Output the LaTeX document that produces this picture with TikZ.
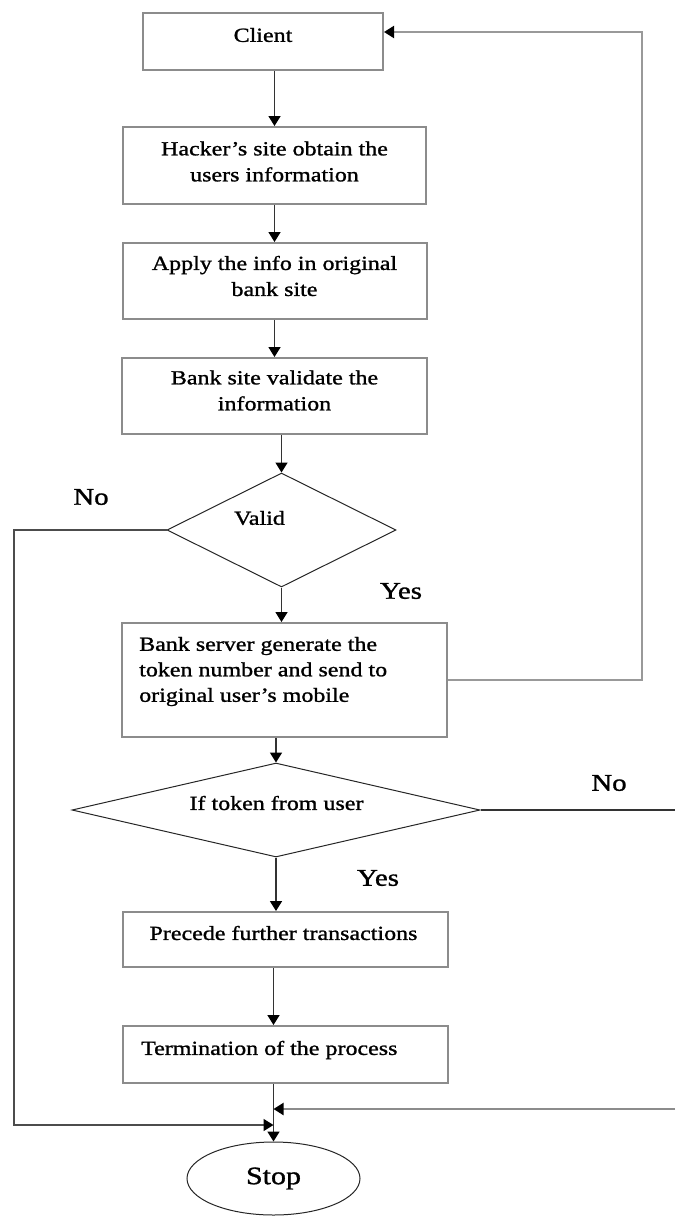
\documentclass[tikz,border=0pt]{standalone}
\usepackage{fontspec}
\setmainfont{Liberation Serif}[FakeStretch=1.2,FakeBold=1.2]
\usetikzlibrary{arrows.meta,shapes.geometric}
\begin{document}
\begin{tikzpicture}[x=1pt,y=-1pt,
  box/.style={draw=black!45, line width=2pt, rectangle, inner sep=0pt},
  txt/.style={font=\fontsize{20pt}{26pt}\selectfont, inner sep=0pt, align=center},
  ltxt/.style={font=\fontsize{20pt}{25.5pt}\selectfont, inner sep=0pt, align=left},
  dec/.style={draw=black!85, line width=1pt, diamond, inner sep=0pt},
  lab/.style={font=\fontsize{24pt}{28pt}\selectfont, inner sep=0pt},
  tip/.style={-{Triangle[length=10pt,width=12pt,color=black]}},
  arr/.style={draw=black!80, line width=1.6pt, tip},
  ln/.style={draw=black!80, line width=1.6pt},
  fb/.style={draw=black!40, line width=2pt}
]
\useasboundingbox (0,0) rectangle (675,1216);

% boxes
\node[box, minimum width=240pt, minimum height=57pt,
  label={[txt, yshift=6.5pt]center:Client}] (client) at (263,41.5) {};
\node[box, minimum width=303pt, minimum height=77pt,
  label={[txt, yshift=4pt]center:Hacker’s site obtain the\\users information}] (hacker) at (274.5,165.5) {};
\node[box, minimum width=304pt, minimum height=76pt,
  label={[txt, yshift=5pt]center:Apply the info in original\\bank site}] (apply) at (274.5,281) {};
\node[box, minimum width=305pt, minimum height=76pt,
  label={[txt, yshift=5.5pt]center:Bank site validate the\\information}] (validate) at (274.5,396) {};
\node[box, minimum width=325pt, minimum height=114pt,
  label={[ltxt, anchor=west, xshift=18pt, yshift=8.5pt]west:Bank server generate the\\token number and send to\\original user’s mobile}] (bank) at (284.5,680) {};
\node[box, minimum width=325pt, minimum height=55pt,
  label={[txt, xshift=-2pt, yshift=6.5pt]center:Precede further transactions}] (precede) at (285.5,939.5) {};
\node[box, minimum width=325pt, minimum height=57pt,
  label={[ltxt, anchor=west, xshift=19pt, yshift=4.5pt]west:Termination of the process}] (term) at (285.5,1054.5) {};

% decisions
\node[dec, minimum width=229pt, minimum height=114pt,
  label={[txt, xshift=-22pt, yshift=12pt]center:Valid}] (valid) at (281.5,530) {};
\node[dec, minimum width=408pt, minimum height=94pt,
  label={[txt, xshift=0.5pt, yshift=7pt]center:If token from user}] (token) at (276,810) {};

% terminal
\node[draw=black!85, line width=1pt, ellipse, minimum width=173pt, minimum height=73pt,
  inner sep=0pt, font=\fontsize{25pt}{28pt}\selectfont] (stop) at (273.5,1178.5) {Stop};

% branch labels
\node[lab] (novalid) at (91,497) {No};
\node[lab] (yesvalid) at (401,591) {Yes};
\node[lab] (notoken) at (609,783) {No};
\node[lab] (yestoken) at (378,878) {Yes};

% helper coordinates
\coordinate (fbc) at (642,32);
\coordinate (lcorner) at (14,1125);
\coordinate (tedge) at (675,810);
\coordinate (redge) at (675,1109);

% main flow
\draw[arr] (client.south -| hacker.north) -- (hacker.north);
\draw[arr] (hacker.south) -- (apply.north);
\draw[arr] (apply.south) -- (validate.north);
\draw[arr] (validate.south -| valid.north) -- (valid.north);
\draw[arr] (valid.south) -- (valid.south |- bank.north);
\draw[arr] (bank.south -| token.north) -- (token.north);
\draw[arr] (token.south) -- (token.south |- precede.north);
\draw[arr] (precede.south -| stop.north) -- (term.north -| stop.north);
\draw[arr] (term.south -| stop.north) -- (stop.north);

% feedback to client
\draw[fb, tip] (bank.east) -| (fbc) -- (client.east |- fbc);

% No branches
\draw[draw=black!70, line width=1.6pt, tip] (valid.west) -| (lcorner) -- (lcorner -| stop.north);
\draw[ln] (token.east) -- (tedge);
\draw[draw=black!45, line width=2pt, tip] (redge) -- (redge -| stop.north);
\end{tikzpicture}
\end{document}
